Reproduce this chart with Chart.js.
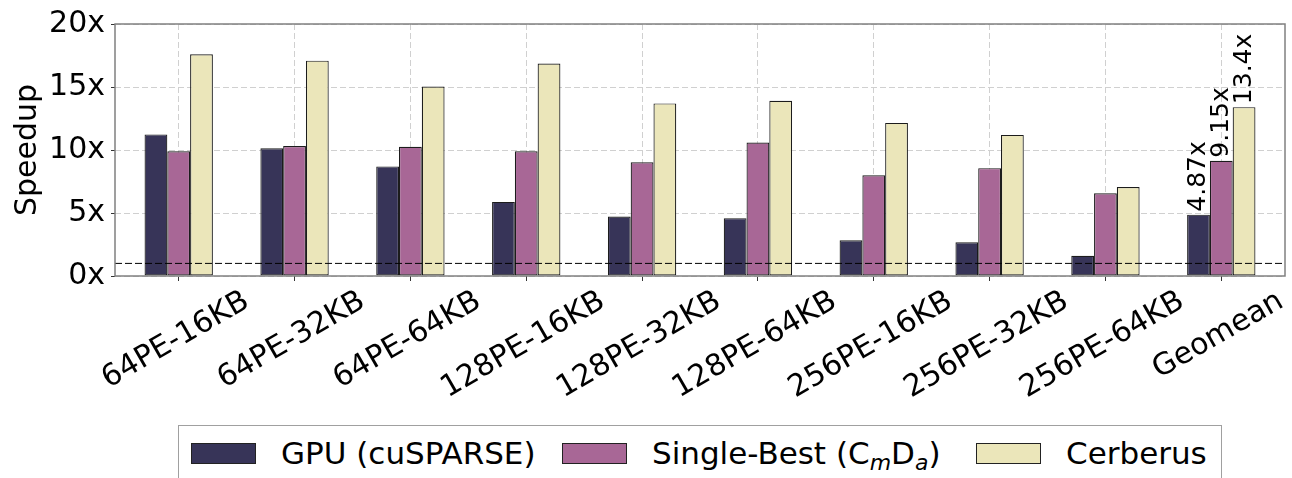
<!DOCTYPE html>
<html>
<head>
<meta charset="utf-8">
<script src="https://cdn.jsdelivr.net/npm/chart.js@4.4.1/dist/chart.umd.min.js"></script>
<style>
html, body { margin: 0; padding: 0; background: #fff; }
#wrap { position: relative; width: 1292px; height: 478px; overflow: hidden; font-family: 'DejaVu Sans', sans-serif; }
#legend {
	position: absolute; left: 178px; top: 425px; width: 1044px; height: 70px;
	box-sizing: border-box; border: 1.5px solid #a0a0a0; background: #fff;
	font-size: 31px; line-height: 31px; color: #000;
}
.item { position: absolute; top: 16px; display: flex; align-items: center; height: 22px; white-space: nowrap; }
.swatch { width: 65px; height: 21px; box-sizing: border-box; border: 1px solid #222; margin-right: 25px; }
.item sub { font-size: 22px; line-height: 0; font-style: italic; vertical-align: -6px; }
</style>
</head>
<body>
<div id="wrap">
	<canvas id="myChart" width="1292" height="478"></canvas>
	<div id="legend"></div>
</div>
<script>
'use strict';

// values
var categories = ['64PE-16KB', '64PE-32KB', '64PE-64KB', '128PE-16KB', '128PE-32KB',
	'128PE-64KB', '256PE-16KB', '256PE-32KB', '256PE-64KB', 'Geomean'];
var gpuSpeedup = [11.24, 10.13, 8.70, 5.88, 4.72, 4.59, 2.83, 2.68, 1.60, 4.87];
var singleBestSpeedup = [9.90, 10.31, 10.26, 9.90, 9.03, 10.60, 8.00, 8.56, 6.56, 9.15];
var cerberusSpeedup = [17.60, 17.09, 15.04, 16.87, 13.70, 13.91, 12.15, 11.20, 7.06, 13.40];
var geomeanLabels = ['4.87x', '9.15x', '13.4x'];
var yTicks = [0, 5, 10, 15, 20];
var baselineSpeedup = 1;

var FONT = 'DejaVu Sans';
var colors = ['#373458', '#a86796', '#ebe6ba'];
var legendHtml = ['GPU (cuSPARSE)', 'Single-Best (C<sub>m</sub>D<sub>a</sub>)', 'Cerberus'];
var legendLeft = [12, 383, 797];
var LABEL_ANGLE = 30 * Math.PI / 180;

function toPoints(values) {
	return values.map(function(v, i) { return { x: i, y: v }; });
}

// dashed 1x line, frame around the plot, rotated category labels and the geomean labels
var extras = {
	id: 'extras',
	afterDraw: function(chart) {
		var ctx = chart.ctx;
		var area = chart.chartArea;
		var xScale = chart.scales.x;
		var y1 = chart.scales.y.getPixelForValue(baselineSpeedup);
		ctx.save();
		ctx.strokeStyle = '#000';
		ctx.lineWidth = 1;
		ctx.setLineDash([7, 3]);
		ctx.beginPath();
		ctx.moveTo(area.left, y1);
		ctx.lineTo(area.right, y1);
		ctx.stroke();
		ctx.setLineDash([]);
		ctx.strokeStyle = '#808080';
		ctx.lineWidth = 1.5;
		ctx.strokeRect(area.left, area.top, area.right - area.left, area.bottom - area.top);

		// category labels, rotated 30 degrees, box centred under the tick
		ctx.fillStyle = '#000';
		ctx.font = '30px "' + FONT + '"';
		ctx.textAlign = 'center';
		ctx.textBaseline = 'middle';
		var emH = 35;
		for (var i = 0; i < categories.length; i++) {
			var w = ctx.measureText(categories[i]).width;
			var boxH = w * Math.sin(LABEL_ANGLE) + emH * Math.cos(LABEL_ANGLE);
			var tx = xScale.getPixelForTick(i) - 3;
			var ty = area.bottom + 8 + boxH / 2;
			ctx.save();
			ctx.translate(tx, ty);
			ctx.rotate(-LABEL_ANGLE);
			ctx.fillText(categories[i], 0, 0);
			ctx.restore();
		}

		var last = categories.length - 1;
		ctx.font = '25px "' + FONT + '"';
		ctx.textAlign = 'left';
		ctx.textBaseline = 'middle';
		for (var d = 0; d < chart.data.datasets.length; d++) {
			var bar = chart.getDatasetMeta(d).data[last];
			ctx.save();
			ctx.translate(bar.x, bar.y - 3);
			ctx.rotate(-Math.PI / 2);
			ctx.fillText(geomeanLabels[d], 0, 0);
			ctx.restore();
		}
		ctx.restore();
	}
};

var ctx = document.getElementById('myChart');
var myChart = new Chart(ctx, {
	type: 'bar',
	data: {
		datasets: [
			{ label: 'GPU (cuSPARSE)', data: toPoints(gpuSpeedup), backgroundColor: colors[0] },
			{ label: 'Single-Best (CmDa)', data: toPoints(singleBestSpeedup), backgroundColor: colors[1] },
			{ label: 'Cerberus', data: toPoints(cerberusSpeedup), backgroundColor: colors[2] }
		]
	},
	options: {
		responsive: false,
		animation: false,
		layout: { padding: { top: 22, right: 7, left: 0, bottom: 0 } },
		datasets: {
			bar: { categoryPercentage: 0.59, barPercentage: 1, borderColor: '#1c1c1c', borderWidth: 1.2, borderSkipped: false }
		},
		plugins: { legend: { display: false }, tooltip: { enabled: false } },
		scales: {
			x: {
				type: 'linear',
				min: -0.55,
				max: categories.length - 0.45,
				offset: false,
				z: 1,
				afterFit: function(scale) { scale.height = 202; },
				afterBuildTicks: function(scale) {
					scale.ticks = categories.map(function(c, i) { return { value: i }; });
				},
				grid: { offset: false, color: '#d0d0d0', lineWidth: 1, tickColor: '#333', tickLength: 5 },
				border: { display: false, dash: [6, 3] },
				ticks: { display: false }
			},
			y: {
				z: 1,
				min: 0,
				max: 20,
				afterFit: function(scale) { scale.width = 115; },
				afterBuildTicks: function(scale) {
					scale.ticks = yTicks.map(function(v) { return { value: v }; });
				},
				grid: { color: '#d0d0d0', lineWidth: 1, tickColor: '#333', tickLength: 4 },
				border: { display: false, dash: [6, 3] },
				ticks: {
					padding: 6, color: '#000', font: { family: FONT, size: 30 },
					callback: function(v) { return v + 'x'; }
				},
				title: {
					display: true, text: 'Speedup', color: '#000',
					font: { family: FONT, size: 30 }, padding: { top: 10, bottom: 0 }
				}
			}
		}
	},
	plugins: [extras]
});

// legend box below the chart, built from the datasets
var legend = document.getElementById('legend');
myChart.data.datasets.forEach(function(ds, i) {
	var item = document.createElement('div');
	item.className = 'item';
	item.style.left = legendLeft[i] + 'px';
	item.innerHTML = '<div class="swatch" style="background:' + ds.backgroundColor + '"></div><span>' + legendHtml[i] + '</span>';
	legend.appendChild(item);
});
</script>
</body>
</html>
